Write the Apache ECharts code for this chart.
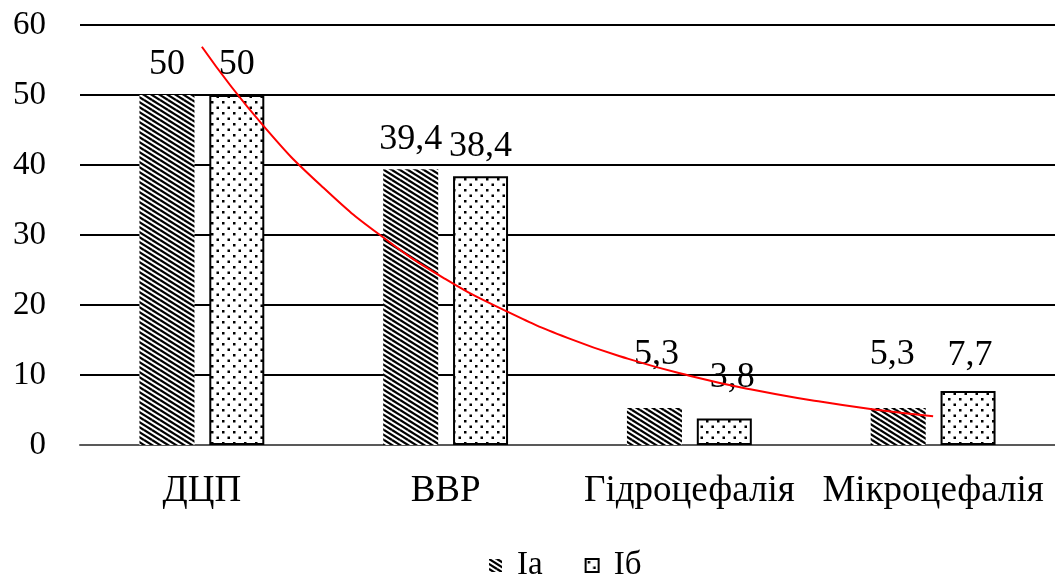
<!DOCTYPE html>
<html>
<head>
<meta charset="utf-8">
<script src="https://cdn.jsdelivr.net/npm/echarts@6/dist/echarts.min.js"></script>
<style>html,body{margin:0;padding:0;background:#fff}#c{width:1055px;height:583px}</style>
</head>
<body>
<div id="c"></div>
<script>
const categories = ['ДЦП', 'ВВР', 'Гідроцефалія', 'Мікроцефалія'];
const seriesNames = ['Ia', 'Iб'];
const valuesIa = [50, 39.4, 5.3, 5.3];
const valuesIb = [50, 38.4, 3.8, 7.7];
const labelsIa = ['50', '39,4', '5,3', '5,3'];
const labelsIb = ['50', '38,4', '3,8', '7,7'];
// exponential trend line (red): [category position, value]
const trendX = [1, 1.25, 1.5, 1.75, 2, 2.25, 2.5, 2.75, 3, 3.25, 3.5, 3.75, 4];
const trendY = [56.9, 45.7, 36.7, 29.5, 23.7, 19.1, 15.3, 12.3, 9.9, 7.95, 6.4, 5.1, 4.1];
const yTicks = {min: 0, max: 60, interval: 10};

// manual label nudges (layout only)
const offIa = [[0, 0], [0, 0], [2, -23], [-6, -23]];
const offIb = [[0, 0], [0, 0], [8, -11], [2, -6]];

function stripePattern() {
  const c = document.createElement('canvas');
  c.width = 16; c.height = 10;
  const g = c.getContext('2d');
  g.fillStyle = '#fff'; g.fillRect(0, 0, 16, 10);
  g.strokeStyle = '#000'; g.lineWidth = 2.3;
  for (let x0 = -32; x0 <= 32; x0 += 8) {
    g.beginPath(); g.moveTo(x0, 0); g.lineTo(x0 + 16, 10); g.stroke();
    g.beginPath(); g.moveTo(x0 - 16, -10); g.lineTo(x0, 0); g.stroke();
    g.beginPath(); g.moveTo(x0 + 16, 10); g.lineTo(x0 + 32, 20); g.stroke();
  }
  return c;
}
function dotPattern() {
  const c = document.createElement('canvas');
  c.width = 11; c.height = 11;
  const g = c.getContext('2d');
  g.fillStyle = '#fff'; g.fillRect(0, 0, 11, 11);
  g.fillStyle = '#000';
  g.fillRect(2, 2, 2.5, 2.5);
  g.fillRect(7.5, 7.5, 2.5, 2.5);
  return c;
}

const font = 'Liberation Serif';
const labelBase = {show: true, position: 'top', distance: 12, fontFamily: font, fontSize: 36, color: '#000'};
function barData(vals, labels, offs) {
  return vals.map((v, i) => ({
    value: v,
    label: Object.assign({}, labelBase, {formatter: labels[i], offset: offs[i]})
  }));
}

const chart = echarts.init(document.getElementById('c'));
chart.setOption({
  animation: false,
  backgroundColor: '#fff',
  textStyle: {fontFamily: font},
  grid: {left: 80, top: 25, width: 978, height: 420},
  legend: {
    data: seriesNames.map(n => ({name: n, icon: 'rect'})),
    bottom: -4, left: 484,
    itemWidth: 13, itemHeight: 13, itemGap: 42,
    textStyle: {fontFamily: font, fontSize: 33, color: '#000', padding: [0, 0, 0, 10]}
  },
  xAxis: [{
    type: 'category', data: categories,
    axisLine: {lineStyle: {color: '#595959', width: 2}},
    axisTick: {show: false},
    axisLabel: {fontFamily: font, fontSize: 37, color: '#000', margin: 28, interval: 0}
  }, {
    type: 'value', min: 0.5, max: 4.5, show: false
  }],
  yAxis: {
    type: 'value', min: yTicks.min, max: yTicks.max, interval: yTicks.interval,
    axisLine: {show: false}, axisTick: {show: false},
    axisLabel: {fontFamily: font, fontSize: 33, color: '#000', margin: 34},
    splitLine: {lineStyle: {color: '#000', width: 2}}
  },
  series: [{
    name: seriesNames[0], type: 'bar', data: barData(valuesIa, labelsIa, offIa),
    barWidth: 55, barGap: '27%',
    itemStyle: {color: {image: stripePattern(), repeat: 'repeat'}},
    label: labelBase
  }, {
    name: seriesNames[1], type: 'bar', data: barData(valuesIb, labelsIb, offIb),
    barWidth: 55,
    itemStyle: {color: {image: dotPattern(), repeat: 'repeat'}, borderColor: '#000', borderWidth: 2},
    label: labelBase
  }, {
    name: 'trend', type: 'line', xAxisIndex: 1,
    data: trendX.map((x, i) => [x, trendY[i]]),
    smooth: true, showSymbol: false, silent: true,
    lineStyle: {color: '#ff0000', width: 2},
    z: 5
  }]
});
</script>
</body>
</html>
